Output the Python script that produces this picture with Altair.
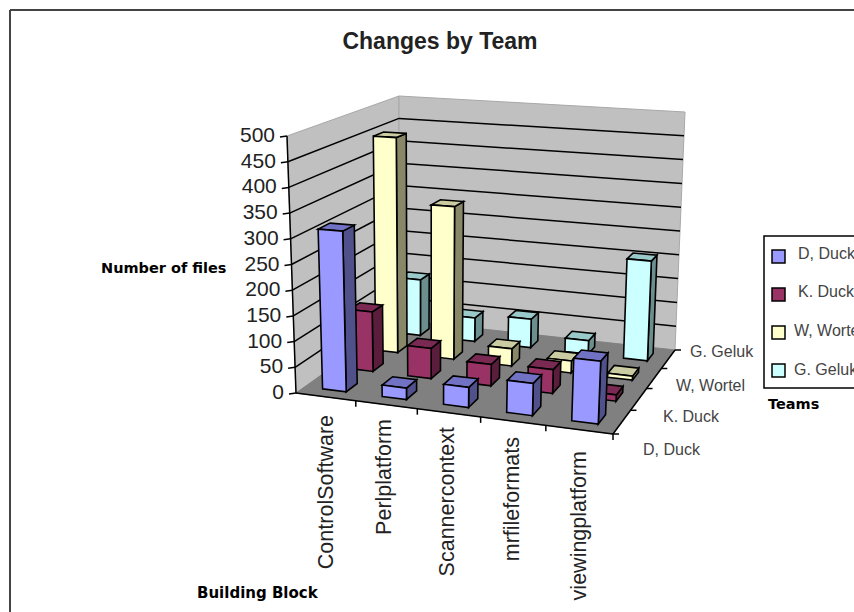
import altair as alt

# Series and categories of the 3-D column chart
categories = ["ControlSoftware", "Perlplatform", "Scannercontext", "mrfileformats", "viewingplatform"]
teams = ["D, Duck", "K. Duck", "W, Wortel", "G. Geluk"]
d_duck = [313, 22, 38, 60, 115]
k_duck = [120, 60, 42, 46, 12]
w_wortel = [450, 315, 35, 24, 8]
g_geluk = [120, 50, 60, 28, 205]
series_values = [d_duck, k_duck, w_wortel, g_geluk]
value_ticks = list(range(0, 501, 50))

front = ["#9999FF", "#993366", "#FFFFCC", "#CCFFFF"]
side = ["#50508A", "#5A1E3C", "#888868", "#6B8F8F"]
top = ["#7272C4", "#7A2952", "#CCCCA3", "#99C9C9"]

# Corners of the 3-D box on the page: (category, series, value) in 0..1
BOX = {
    (0, 0, 0): (296, 393), (1, 0, 0): (613, 434),
    (0, 1, 0): (399, 320), (1, 1, 0): (675, 350),
    (0, 0, 1): (287, 136), (1, 0, 1): (625, 156),
    (0, 1, 1): (399, 96), (1, 1, 1): (685, 112),
}
KU, KV = 0.93, 1.18  # foreshortening along the two floor axes


def warp(t, k):
    return t * k / (1 + (k - 1) * t)


def project(u, v, w):
    u, v = warp(u, KU), warp(v, KV)
    x = y = 0.0
    for (a, b, c), (px, py) in BOX.items():
        f = (u if a else 1 - u) * (v if b else 1 - v) * (w if c else 1 - w)
        x += f * px
        y += f * py
    return [round(x, 2), round(y, 2)]


def poly(pts, fill, stroke="#000000"):
    ring = [project(*p) for p in pts]
    ring.append(ring[0])
    return {"type": "Feature", "properties": {"fill": fill, "stroke": stroke},
            "geometry": {"type": "Polygon", "coordinates": [ring]}}


def segment(a, b, stroke="#000000"):
    return {"type": "Feature", "properties": {"stroke": stroke},
            "geometry": {"type": "LineString", "coordinates": [project(*a), project(*b)]}}


def page_segment(a, b, stroke="#000000"):
    return {"type": "Feature", "properties": {"stroke": stroke},
            "geometry": {"type": "LineString", "coordinates": [a, b]}}


def shapes(features, width=1.3):
    return (alt.Chart(alt.Data(values=features))
            .mark_geoshape(strokeWidth=width, strokeJoin="miter")
            .encode(fill=alt.Fill("properties.fill:N", scale=None),
                    stroke=alt.Stroke("properties.stroke:N", scale=None))
            .project(type="identity", scale=1, translate=[0, 0]))


def lines(features, width=1.3):
    return (alt.Chart(alt.Data(values=features))
            .mark_geoshape(filled=False, strokeWidth=width)
            .encode(stroke=alt.Stroke("properties.stroke:N", scale=None))
            .project(type="identity", scale=1, translate=[0, 0]))


def labels(rows, **mark):
    return (alt.Chart(alt.Data(values=rows))
            .mark_text(**mark)
            .encode(longitude="x:Q", latitude="y:Q", text="t:N")
            .project(type="identity", scale=1, translate=[0, 0]))


# Walls and floor
walls = [
    poly([(0, 0, 0), (0, 1, 0), (0, 1, 1), (0, 0, 1)], "#C0C0C0", "#A8A8A8"),
    poly([(0, 1, 0), (1, 1, 0), (1, 1, 1), (0, 1, 1)], "#C0C0C0", "#A8A8A8"),
    poly([(0, 0, 0), (1, 0, 0), (1, 1, 0), (0, 1, 0)], "#808080", "#808080"),
]

# Gridlines run along both walls; axes carry small outward ticks
grid = []
for val in value_ticks[1:-1]:
    w = val / 500
    grid.append(segment((0, 0, w), (0, 1, w)))
    grid.append(segment((0, 1, w), (1, 1, w)))
axes = [segment((0, 0, 0), (0, 0, 1)), segment((0, 0, 0), (1, 0, 0)), segment((1, 0, 0), (1, 1, 0))]
for val in value_ticks:
    px, py = project(0, 0, val / 500)
    axes.append(page_segment([px - 7, py + 1], [px, py]))
for i in range(1, 6):
    px, py = project(i / 5, 0, 0)
    axes.append(page_segment([px, py], [px, py + 6]))
for j in range(0, 5):
    px, py = project(1, j / 4, 0)
    axes.append(page_segment([px, py], [px + 6, py]))

# Columns are painted from the back row forward, left to right within a row
faces = []
for j in range(3, -1, -1):
    v0, v1 = (j + 0.3) / 4, (j + 0.7) / 4
    for i, val in enumerate(series_values[j]):
        u0, u1 = (i + 0.3) / 5, (i + 0.7) / 5
        w = val / 500
        faces.append(poly([(u1, v0, 0), (u1, v1, 0), (u1, v1, w), (u1, v0, w)], side[j]))
        faces.append(poly([(u0, v0, w), (u1, v0, w), (u1, v1, w), (u0, v1, w)], top[j]))
        faces.append(poly([(u0, v0, 0), (u1, v0, 0), (u1, v0, w), (u0, v0, w)], front[j]))

# Value axis labels sit just left of their ticks
value_rows = []
for val in value_ticks:
    px, py = project(0, 0, val / 500)
    value_rows.append({"x": px - 12, "y": py, "t": str(val)})

# Label anchors for the two floor axes
cat_label_x = [327, 385, 448, 513, 580]
cat_label_top = [415, 419, 427, 437, 451]
cat_rows = [{"x": x, "y": y, "t": c} for x, y, c in zip(cat_label_x, cat_label_top, categories)]

team_label_x = [643, 663, 676, 690]
team_label_y = [450, 417, 386, 352]
team_rows = [{"x": x, "y": y, "t": t} for x, y, t in zip(team_label_x, team_label_y, teams)]

# Legend box, drawn past the right edge of the page
swatch_y = [256, 294, 332, 370]
legend_x = [798, 798, 794, 794]
legend_y = [254, 292, 331, 370]
legend = [{"type": "Feature", "properties": {"fill": "#FFFFFF", "stroke": "#000000"},
           "geometry": {"type": "Polygon", "coordinates": [[[764, 236], [900, 236], [900, 388], [764, 388], [764, 236]]]}}]
for y, c in zip(swatch_y, front):
    legend.append({"type": "Feature", "properties": {"fill": c, "stroke": "#000000"},
                   "geometry": {"type": "Polygon", "coordinates": [[[772, y - 6], [785, y - 6], [785, y + 7], [772, y + 7], [772, y - 6]]]}})
legend_rows = [{"x": x, "y": y, "t": t} for x, y, t in zip(legend_x, legend_y, teams)]

frame = [page_segment([10, 612], [10, 10], "#444444"), page_segment([10, 10], [854, 10], "#444444")]

chart = alt.layer(
    lines(frame, 2),
    shapes(walls, 1),
    lines(grid, 1.5),
    lines(axes, 1.5),
    shapes(faces, 1.6),
    shapes(legend, 1.5),
    labels([{"x": 440, "y": 42, "t": "Changes by Team"}], font="Liberation Sans", fontSize=23, fontWeight="bold",
           align="center", baseline="middle", color="#222222"),
    labels(value_rows, font="Liberation Sans", fontSize=21, align="right", baseline="middle", color="#222222"),
    labels(cat_rows, font="Liberation Sans", fontSize=21.5, angle=270, align="right", baseline="middle", color="#222222"),
    labels(team_rows, font="Liberation Sans", fontSize=16, align="left", baseline="middle", color="#444444"),
    labels(legend_rows, font="Liberation Sans", fontSize=16, align="left", baseline="middle", color="#444444"),
    labels([{"x": 101, "y": 269, "t": "Number of files"}], font="DejaVu Sans", fontSize=14.5, fontWeight="bold",
           align="left", baseline="middle", color="#000000"),
    labels([{"x": 197, "y": 593, "t": "Building Block"}], font="DejaVu Sans", fontSize=15, fontWeight="bold",
           align="left", baseline="middle", color="#000000"),
    labels([{"x": 768, "y": 405, "t": "Teams"}], font="DejaVu Sans", fontSize=14.5, fontWeight="bold",
           align="left", baseline="middle", color="#000000"),
).properties(width=854, height=612, padding=0, autosize=alt.AutoSizeParams(type="none"), background="#FFFFFF"
).configure_view(stroke=None)

chart.save("out.html", embed_options={"renderer": "svg", "actions": False})
